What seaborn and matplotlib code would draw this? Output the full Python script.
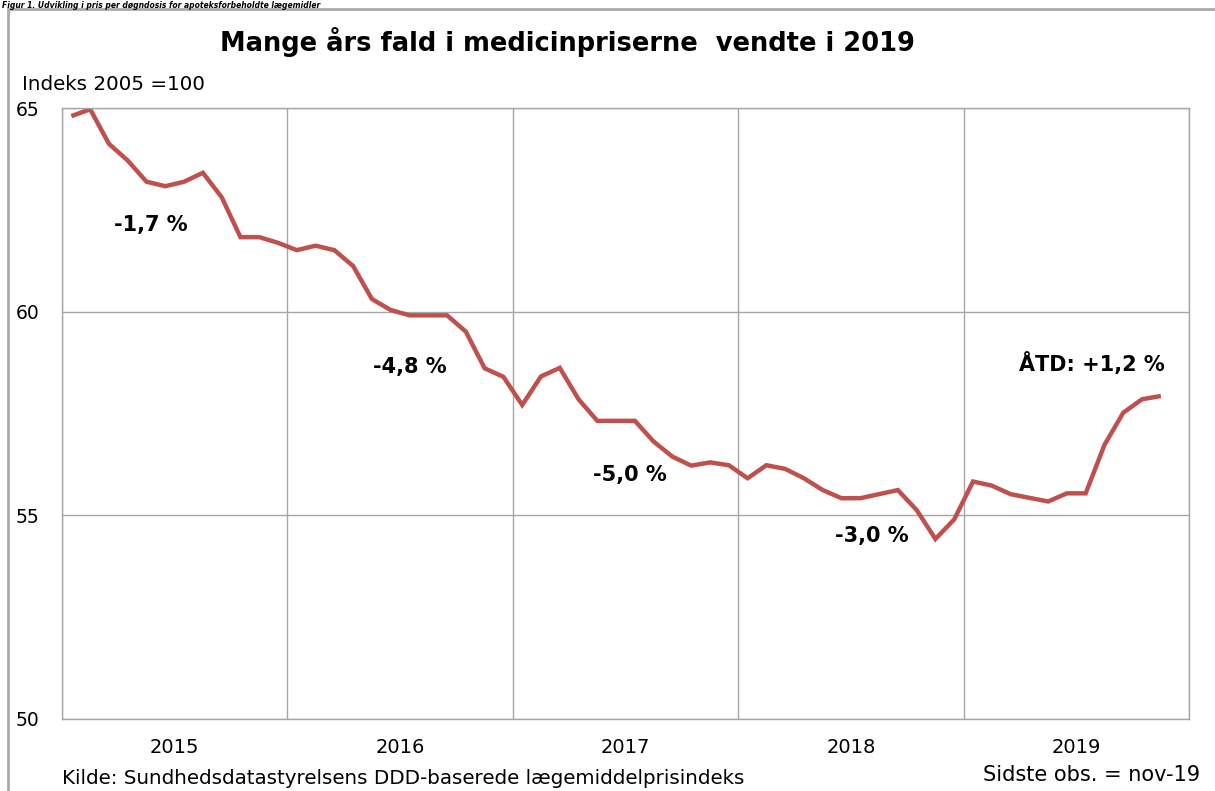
import matplotlib
matplotlib.use("Agg")
import matplotlib.pyplot as plt
from matplotlib.patches import Rectangle
import seaborn as sns
import pandas as pd
import numpy as np

# ---- data ----
years = ["2015", "2016", "2017", "2018", "2019"]
index_values = [
    64.80, 64.97, 64.12, 63.71, 63.19, 63.08, 63.19, 63.41, 62.81, 61.83, 61.83, 61.69,   # 2015
    61.51, 61.62, 61.51, 61.12, 60.31, 60.04, 59.91, 59.91, 59.91, 59.51, 58.61, 58.40,   # 2016
    57.71, 58.41, 58.62, 57.85, 57.32, 57.32, 57.32, 56.81, 56.44, 56.22, 56.30, 56.23,   # 2017
    55.91, 56.23, 56.14, 55.91, 55.62, 55.42, 55.42, 55.52, 55.62, 55.13, 54.42, 54.90,   # 2018
    55.83, 55.73, 55.52, 55.43, 55.34, 55.54, 55.54, 56.73, 57.52, 57.85, 57.93,          # 2019 (jan-nov)
]
annotations = ["-1,7 %", "-4,8 %", "-5,0 %", "-3,0 %", "ÅTD: +1,2 %"]
y_ticks = [50, 55, 60, 65]

df = pd.DataFrame({"month": np.arange(len(index_values)), "index": index_values})

sns.set_style("white")
plt.rcParams["font.family"] = ["DejaVu Sans"]
plt.rcParams["text.color"] = "black"
plt.rcParams["xtick.labelcolor"] = "black"
plt.rcParams["ytick.labelcolor"] = "black"

W, H = 1215, 791
fig = plt.figure(figsize=(W / 100, H / 100), dpi=100)
ax = fig.add_axes([62 / W, 1 - 719 / H, (1189 - 62) / W, (719 - 108) / H])

grid_col = "#A6A6A6"
sns.lineplot(data=df, x="month", y="index", ax=ax, color="#C0504D", linewidth=3.2,
             solid_joinstyle="miter", solid_capstyle="butt")

ax.set_xlim(-0.5, 59.5)
ax.set_ylim(50, 65)
ax.set_yticks(y_ticks)
ax.set_yticklabels([str(t) for t in y_ticks], fontsize=13.5, color="black")
ax.set_xticks([-0.5 + 12 * i for i in range(6)])
ax.set_xticklabels([])
ax.set_xticks([5.5 + 12 * i for i in range(5)], minor=True)
ax.set_xticklabels(years, minor=True, fontsize=14, color="black")
ax.tick_params(axis="x", which="minor", length=0, pad=14)
ax.tick_params(axis="x", which="major", length=6, color=grid_col, width=1, direction="out")
ax.tick_params(axis="y", length=6, color=grid_col, width=1, direction="out", pad=10)
ax.grid(True, which="major", color=grid_col, linewidth=1)
ax.set_axisbelow(True)
for s in ax.spines.values():
    s.set_color(grid_col)
    s.set_linewidth(1)
ax.set_xlabel("")
ax.set_ylabel("")

# annotations
ann_pos = [(4.25, 62.12), (18.0, 58.65), (29.75, 56.0), (42.6, 54.5), (54.35, 58.72)]
for txt, (xx, yy) in zip(annotations, ann_pos):
    ax.text(xx, yy, txt, fontsize=15, fontweight="bold", ha="center", va="center", color="black")

# frame and texts
fig.patches.append(Rectangle((8 / W, -0.1), 1.2, 1 - 9 / H + 0.1, transform=fig.transFigure,
                             fill=False, edgecolor="#AAAAAA", linewidth=2))
fig.text(2 / W, 1 - 0.5 / H, "Figur 1. Udvikling i pris per døgndosis for apoteksforbeholdte lægemidler",
         fontsize=5.5, fontweight="bold", fontstyle="italic", ha="left", va="top")
fig.text(567 / W, 1 - 42 / H, "Mange års fald i medicinpriserne  vendte i 2019",
         fontsize=18.5, fontweight="bold", ha="center", va="center")
fig.text(22 / W, 1 - 84 / H, "Indeks 2005 =100", fontsize=14.3, ha="left", va="center")
fig.text(62 / W, 1 - 779 / H, "Kilde: Sundhedsdatastyrelsens DDD-baserede lægemiddelprisindeks",
         fontsize=14.3, ha="left", va="center")
fig.text(1200 / W, 1 - 775 / H, "Sidste obs. = nov-19", fontsize=15, ha="right", va="center")

fig.savefig("out.png", dpi=100)
